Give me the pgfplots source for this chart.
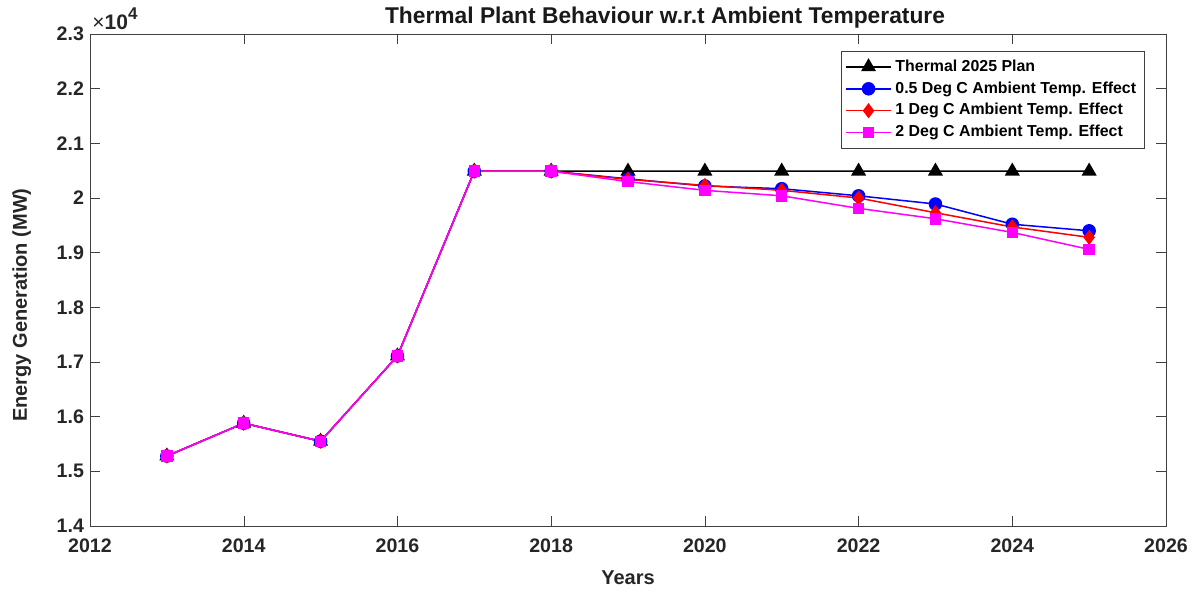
\documentclass[border=0pt]{standalone}
\usepackage{pgfplots}
\pgfplotsset{compat=1.18}
\usepackage{fontspec}
\setmainfont{Liberation Sans}
\definecolor{mmag}{RGB}{255,0,255}
\definecolor{mblue}{RGB}{0,0,255}
\definecolor{mred}{RGB}{255,0,0}
\begin{document}
\begin{tikzpicture}
\begin{axis}[
  name=ax,
  scale only axis, width=538pt, height=246pt,
  xmin=2012, xmax=2026, ymin=14000, ymax=23000,
  xtick={2012,2014,...,2026}, ytick={14000,15000,...,23000},
  scaled y ticks=base 10:-4,
  ytick scale label code/.code={},
  /pgf/number format/assume math mode=true,
  xticklabel style={/pgf/number format/1000 sep={}, yshift=-3pt},
  yticklabel style={xshift=0.5pt},
  tick label style={font=\bfseries\fontsize{9.8}{11}\selectfont, text=black!85},
  label style={font=\bfseries\fontsize{10}{12}\selectfont, text=black!85},
  title style={font=\bfseries\fontsize{11.4}{13}\selectfont, text=black!90, yshift=-6.5pt, xshift=18.5pt},
  title={Thermal Plant Behaviour w.r.t Ambient Temperature},
  xlabel={Years}, ylabel={Energy Generation (MW)},
  xlabel style={yshift=-2pt},
  ylabel style={at={(rel axis cs:-0.0634,0.449)}, anchor=center},
  axis line style={black!75},
  tick style={black!75},
  major tick length=5pt, tick align=inside,
  clip=false,
  legend style={at={(rel axis cs:0.98,0.965)}, anchor=north east,
    font=\bfseries\fontsize{7.95}{9}\selectfont, draw=black!75, inner sep=2pt,
    row sep=-0.3pt},
  legend cell align=left,
  legend image code/.code={\draw[mark repeat=2,mark phase=2,line width=0.75pt,#1] plot coordinates {(0cm,0cm)(0.39cm,0cm)(0.78cm,0cm)};},
  every axis plot/.append style={line width=0.75pt},
]
\addplot[black, mark=triangle*, mark size=3.6pt] coordinates {
(2013,15280)(2014,15880)(2015,15550)(2016,17110)(2017,20490)(2018,20490)(2019,20490)(2020,20490)(2021,20490)(2022,20490)(2023,20490)(2024,20490)(2025,20490)};
\addlegendentry{Thermal 2025 Plan}
\addplot[mblue, mark=*, mark size=3pt] coordinates {
(2013,15280)(2014,15880)(2015,15550)(2016,17110)(2017,20490)(2018,20490)(2019,20350)(2020,20220)(2021,20170)(2022,20040)(2023,19890)(2024,19520)(2025,19400)};
\addlegendentry{0.5 Deg C Ambient Temp. Effect}
\addplot[mred, mark=diamond*, mark size=3.2pt] coordinates {
(2013,15280)(2014,15880)(2015,15550)(2016,17110)(2017,20490)(2018,20490)(2019,20340)(2020,20230)(2021,20140)(2022,20000)(2023,19730)(2024,19470)(2025,19280)};
\addlegendentry{1 Deg C Ambient Temp. Effect}
\addplot[mmag, mark=square*, mark size=2.5pt] coordinates {
(2013,15280)(2014,15880)(2015,15550)(2016,17110)(2017,20490)(2018,20490)(2019,20300)(2020,20140)(2021,20040)(2022,19810)(2023,19620)(2024,19370)(2025,19060)};
\addlegendentry{2 Deg C Ambient Temp. Effect}
\node[anchor=south west, inner xsep=1pt, inner ysep=0pt, yshift=2pt, text=black!85, font=\fontsize{10.5}{11}\selectfont] at (rel axis cs:0,1) {×\textbf{10}\raisebox{0.45em}{\fontsize{8.5}{9}\selectfont\textbf{4}}};
\end{axis}
\path (ax.south east) ++(15pt,-32pt) coordinate (br);
\path (ax.north west) ++(-45pt,17pt) coordinate (tl);
\useasboundingbox (br) rectangle (tl);
\end{tikzpicture}
\end{document}
